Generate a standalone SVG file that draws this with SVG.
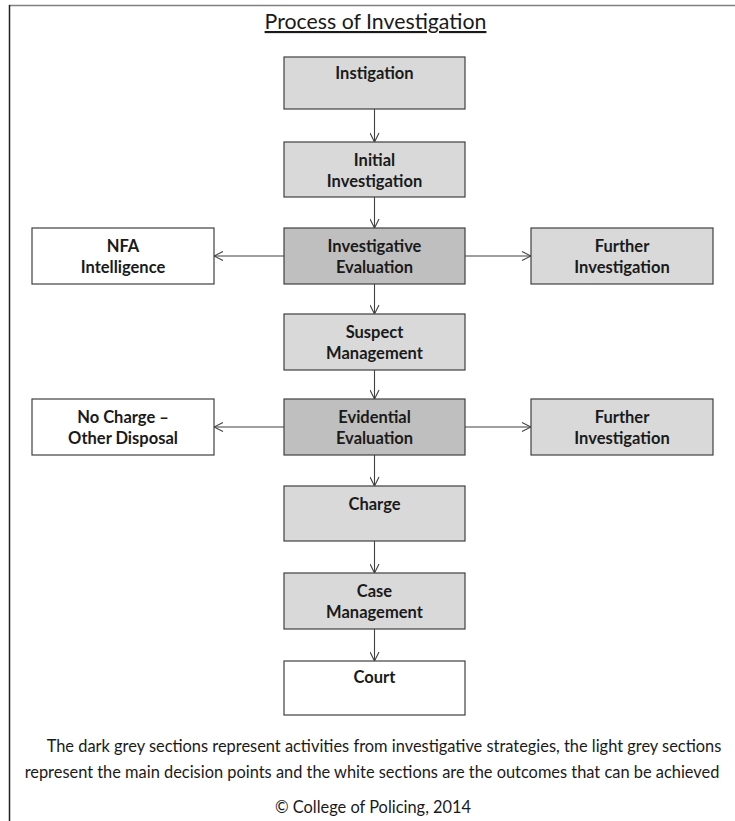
<svg xmlns="http://www.w3.org/2000/svg" width="735" height="821" viewBox="0 0 735 821">
  <defs>
    <marker id="arrow" viewBox="0 0 10 10" refX="10" refY="5" markerWidth="10" markerHeight="10" markerUnits="userSpaceOnUse" orient="auto">
      <path d="M1,0.5 L10,5 L1,9.5" fill="none" stroke="#404040" stroke-width="1.1"/>
    </marker>
  </defs>
  <style>
    .box { stroke: #404040; stroke-width: 1.2; }
    .light { fill: #d9d9d9; }
    .dark { fill: #bfbfbf; }
    .white { fill: #ffffff; }
    .lbl { font-family: Lato, "Liberation Sans", sans-serif; font-weight: bold; font-size: 16.5px; fill: #1a1a1a; text-anchor: middle; }
    .conn { stroke: #404040; stroke-width: 1.1; fill: none; marker-end: url(#arrow); }
    .note { font-family: Lato, "Liberation Sans", sans-serif; font-size: 16.4px; fill: #1a1a1a; text-anchor: middle; }
  </style>
  <rect x="0" y="0" width="735" height="821" fill="#ffffff"/>
  <!-- page frame: top and left edges -->
  <line x1="9" y1="5.5" x2="735" y2="5.5" stroke="#808080" stroke-width="1.5"/>
  <line x1="9.5" y1="5" x2="9.5" y2="821" stroke="#202020" stroke-width="1.5"/>

  <g id="title">
    <text x="375.5" y="29" font-family="Lato, 'Liberation Sans', sans-serif" font-size="21.3" fill="#1a1a1a" text-anchor="middle" text-decoration="underline">Process of Investigation</text>
  </g>

  <g id="connectors">
    <line class="conn" x1="374.5" y1="109" x2="374.5" y2="142"/>
    <line class="conn" x1="374.5" y1="197" x2="374.5" y2="228"/>
    <line class="conn" x1="374.5" y1="284" x2="374.5" y2="314"/>
    <line class="conn" x1="374.5" y1="370" x2="374.5" y2="399"/>
    <line class="conn" x1="284" y1="256" x2="214" y2="256"/>
    <line class="conn" x1="465" y1="256" x2="531" y2="256"/>
    <line class="conn" x1="284" y1="427" x2="214" y2="427"/>
    <line class="conn" x1="465" y1="427" x2="531" y2="427"/>
    <line class="conn" x1="374.5" y1="455" x2="374.5" y2="486"/>
    <line class="conn" x1="374.5" y1="541" x2="374.5" y2="573"/>
    <line class="conn" x1="374.5" y1="629" x2="374.5" y2="661"/>
  </g>

  <g id="instigation">
    <rect class="box light" x="284" y="57" width="181" height="52"/>
    <text class="lbl" x="374.5" y="79">Instigation</text>
  </g>
  <g id="initial-investigation">
    <rect class="box light" x="284" y="142" width="181" height="55"/>
    <text class="lbl" x="374.5" y="166">Initial</text>
    <text class="lbl" x="374.5" y="187">Investigation</text>
  </g>
  <g id="investigative-evaluation">
    <rect class="box dark" x="284" y="228" width="181" height="56"/>
    <text class="lbl" x="374.5" y="252">Investigative</text>
    <text class="lbl" x="374.5" y="273">Evaluation</text>
  </g>
  <g id="nfa-intelligence">
    <rect class="box white" x="32" y="228" width="182" height="56"/>
    <text class="lbl" x="123" y="252">NFA</text>
    <text class="lbl" x="123" y="273">Intelligence</text>
  </g>
  <g id="further-investigation-1">
    <rect class="box light" x="531" y="228" width="182" height="56"/>
    <text class="lbl" x="622" y="252">Further</text>
    <text class="lbl" x="622" y="273">Investigation</text>
  </g>
  <g id="suspect-management">
    <rect class="box light" x="284" y="314" width="181" height="56"/>
    <text class="lbl" x="374.5" y="338">Suspect</text>
    <text class="lbl" x="374.5" y="359">Management</text>
  </g>
  <g id="evidential-evaluation">
    <rect class="box dark" x="284" y="399" width="181" height="56"/>
    <text class="lbl" x="374.5" y="423">Evidential</text>
    <text class="lbl" x="374.5" y="444">Evaluation</text>
  </g>
  <g id="no-charge">
    <rect class="box white" x="32" y="399" width="182" height="56"/>
    <text class="lbl" x="123" y="423">No Charge –</text>
    <text class="lbl" x="123" y="444">Other Disposal</text>
  </g>
  <g id="further-investigation-2">
    <rect class="box light" x="531" y="399" width="182" height="56"/>
    <text class="lbl" x="622" y="423">Further</text>
    <text class="lbl" x="622" y="444">Investigation</text>
  </g>
  <g id="charge">
    <rect class="box light" x="284" y="486" width="181" height="55"/>
    <text class="lbl" x="374.5" y="510">Charge</text>
  </g>
  <g id="case-management">
    <rect class="box light" x="284" y="573" width="181" height="56"/>
    <text class="lbl" x="374.5" y="597">Case</text>
    <text class="lbl" x="374.5" y="618">Management</text>
  </g>
  <g id="court">
    <rect class="box white" x="284" y="661" width="181" height="54"/>
    <text class="lbl" x="374.5" y="683">Court</text>
  </g>

  <g id="notes">
    <text class="note" x="384" y="752">The dark grey sections represent activities from investigative strategies, the light grey sections</text>
    <text class="note" x="372" y="778">represent the main decision points and the white sections are the outcomes that can be achieved</text>
    <text class="note" x="373" y="813">© College of Policing, 2014</text>
  </g>
</svg>
